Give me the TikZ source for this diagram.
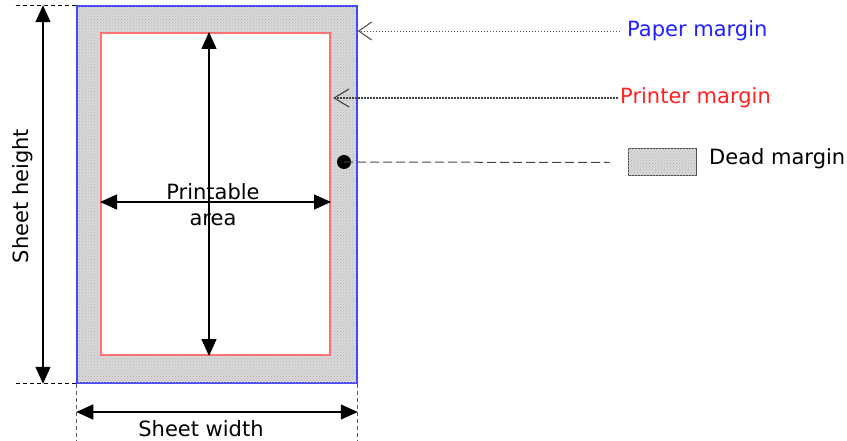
\documentclass[tikz,border=0pt]{standalone}
\usepackage{fontspec}
\setmainfont{DejaVu Sans}
\usetikzlibrary{arrows.meta,patterns}
\definecolor{papblue}{HTML}{2020FF}
\definecolor{prired}{HTML}{FF2020}
\definecolor{prifr}{HTML}{FF7070}
\definecolor{sheetfr}{HTML}{4040FF}
\tikzset{
  dim/.style={draw=black, line width=1.4pt,
    {Triangle[length=17pt,width=15pt]}-{Triangle[length=17pt,width=15pt]}},
  ext/.style={draw=black, line width=0.9pt, dash pattern=on 4pt off 3pt},
  vext/.style={draw=gray!70!black, line width=0.8pt, dash pattern=on 4pt off 3pt},
  lbl/.style={font=\fontsize{21}{26}\selectfont, inner sep=0pt},
  deadfill/.style={fill=gray!30, postaction={pattern=crosshatch dots, pattern color=gray!60}},
  sheetbox/.style={rectangle, inner sep=0pt, deadfill, draw=sheetfr, line width=1.5pt},
  printbox/.style={rectangle, inner sep=0pt, fill=white, draw=prifr, line width=2pt},
  legbox/.style={rectangle, inner sep=0pt, deadfill, draw=gray!60!black, line width=1pt},
  paperln/.style={draw=gray!65!black, line width=0.8pt, dash pattern=on 1.5pt off 1.5pt,
    -{Straight Barb[length=13pt,width=18pt,line width=1.1pt]}},
  printerln/.style={draw=gray!50!black, line width=1.5pt, dash pattern=on 2pt off 1pt,
    -{Straight Barb[length=15pt,width=18pt,line width=1.1pt]}},
  deadln/.style={draw=gray!55!black, line width=1pt, dash pattern=on 9pt off 4pt},
  dotnode/.style={circle, fill=black, inner sep=0pt, minimum size=14pt},
}
\begin{document}
\begin{tikzpicture}[x=1pt,y=-1pt]
\useasboundingbox (0,0) rectangle (847,441);

% sheet and printable area
\node[sheetbox, minimum width=280pt, minimum height=377pt] (sheet) at (217,194.5) {};
\node[printbox, minimum width=229pt, minimum height=322pt] (print) at (215.5,194) {};

% helper coordinates
\coordinate (hx) at (43,0);
\coordinate (wy) at (0,412);
\coordinate (px) at (209,0);
\coordinate (py) at (0,202);

% extension lines
\draw[ext] (sheet.north west) -- ++(-63,0);
\draw[ext] (sheet.south west) -- ++(-60,0);
\draw[vext] (sheet.south west) -- ++(0,58);
\draw[vext] (sheet.south east) -- ++(0,58);

% labels
\node[lbl, text=papblue, anchor=west] (paper) at (627,31) {Paper margin};
\node[lbl, text=prired, anchor=west] (printer) at (620,98) {Printer margin};
\node[lbl, anchor=west] (dead) at (709,159) {Dead margin};
\node[lbl, rotate=90] (sh) at (23,196) {Sheet height};
\node[lbl] (sw) at (201,429) {Sheet width};
\node[lbl, align=center] (pa) at (213,205) {Printable\\area};

% legend box and dot
\node[legbox, minimum width=68pt, minimum height=27pt] (leg) at (662,162.5) {};
\node[dotnode] (dot) at (344,162) {};

% dimension arrows
\draw[dim] (sheet.north west -| hx) -- (sheet.south west -| hx);
\draw[dim] (sheet.south west |- wy) -- (sheet.south east |- wy);
\draw[dim] (print.north -| px) -- (print.south -| px);
\draw[dim] (print.west |- py) -- (print.east |- py);

% callout connectors
\draw[paperln] ([xshift=-7pt]paper.west) -- (sheet.east |- paper.west);
\draw[printerln] ([xshift=-2pt]printer.west) -- ([xshift=2pt]print.east |- printer.west);
\draw[deadln] (dot.center) -- ([xshift=-18pt]leg.west);
\end{tikzpicture}
\end{document}
